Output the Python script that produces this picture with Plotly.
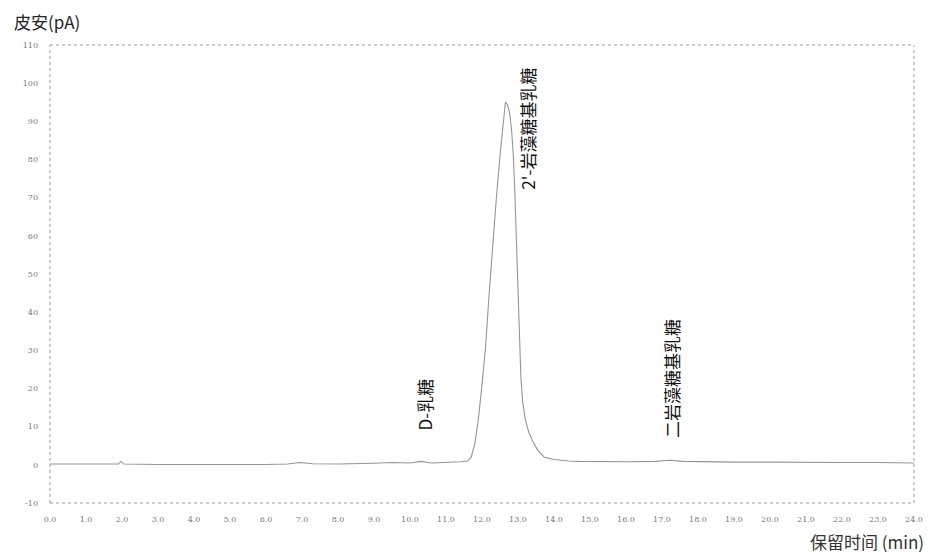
import plotly.graph_objects as go

# Chromatogram trace (retention time in min, signal in pA)
time_min = [0.0, 1.0, 1.9, 1.97, 2.05, 3.0, 4.0, 4.7, 5.0, 6.0, 6.6, 6.95, 7.3, 8.0, 9.0,
            9.5, 10.0, 10.3, 10.6, 11.0, 11.4, 11.6, 11.7, 11.8, 11.9, 12.0, 12.1, 12.2,
            12.3, 12.4, 12.5, 12.58, 12.65, 12.70, 12.76, 12.82, 12.87, 12.91, 12.95, 12.98,
            13.01, 13.04, 13.08, 13.13, 13.2, 13.3, 13.42, 13.55, 13.73, 14.0, 14.4, 14.7,
            15.5, 16.0, 16.8, 17.2, 17.6, 18.0, 19.0, 20.0, 21.0, 22.0, 23.0, 24.0]
signal_pa = [0.2, 0.2, 0.2, 0.9, 0.2, 0.1, 0.1, 0.0, 0.1, 0.1, 0.2, 0.6, 0.3, 0.2, 0.4,
             0.6, 0.5, 0.9, 0.5, 0.6, 0.8, 1.0, 2.0, 5.5, 12.0, 21.0, 31.0, 45.0,
             58.0, 70.0, 81.0, 89.0, 95.0, 94.5, 92.5, 88.0, 81.0, 72.0, 61.0, 51.0,
             41.0, 32.0, 23.0, 16.5, 12.0, 8.5, 6.0, 3.8, 2.0, 1.4, 1.0, 0.9,
             0.8, 0.8, 0.9, 1.2, 0.9, 0.8, 0.7, 0.7, 0.6, 0.6, 0.6, 0.5]

# Peak labels
peak_names = ["D-乳糖", "2'-岩藻糖基乳糖", "二岩藻糖基乳糖"]
peak_label_x = [10.4, 13.27, 17.26]
peak_label_y = [8.6, 71.5, 6.5]

x_ticks = [float(i) for i in range(0, 25)]
x_tick_text = [f"{v:.1f}" for v in x_ticks]
y_ticks = [110, 100, 90, 80, 70, 60, 50, 40, 30, 20, 10, 0, -10]
y_tick_text = [str(v) for v in y_ticks]

fig = go.Figure()
fig.add_trace(go.Scatter(
    x=time_min, y=signal_pa, mode="lines",
    line=dict(color="#959595", width=1.1),
    hoverinfo="x+y", showlegend=False,
))

for name, px, py in zip(peak_names, peak_label_x, peak_label_y):
    fig.add_annotation(
        x=px, y=py, xref="x", yref="y", text=name, showarrow=False,
        textangle=-90, xanchor="center", yanchor="bottom",
        font=dict(family="Noto Sans CJK SC", size=17, color="#111111"),
    )

# axis titles
fig.add_annotation(x=-0.044, y=1.052, xref="paper", yref="paper", text="皮安(pA)",
                   showarrow=False, xanchor="left", yanchor="middle",
                   font=dict(family="Noto Sans CJK SC", size=17, color="#222222"))
fig.add_annotation(x=1.0138, y=-0.083, xref="paper", yref="paper", text="保留时间 (min)",
                   showarrow=False, xanchor="right", yanchor="middle",
                   font=dict(family="Noto Sans CJK SC", size=17, color="#333333"))

# dotted frame
for x0, y0, x1, y1 in [(0, 0, 1, 0), (0, 1, 1, 1), (0, 0, 0, 1), (1, 0, 1, 1)]:
    fig.add_shape(type="line", xref="paper", yref="paper", x0=x0, y0=y0, x1=x1, y1=y1,
                  line=dict(color="#9a9a9a", width=1, dash="dot"))

tick_font = dict(family="DejaVu Serif", size=8, color="#7a7a7a")
fig.update_xaxes(range=[0, 24], tickvals=x_ticks, ticktext=x_tick_text,
                 showgrid=False, zeroline=False, showline=False, ticks="",
                 tickfont=tick_font, ticklabelstandoff=10)
fig.update_yaxes(range=[-10, 110], tickvals=y_ticks, ticktext=y_tick_text,
                 showgrid=False, zeroline=False, showline=False, ticks="",
                 tickfont=tick_font, ticklabelstandoff=11)

fig.update_layout(
    width=927, height=549,
    margin=dict(l=42, r=17, t=37, b=54),
    paper_bgcolor="white", plot_bgcolor="white",
)

fig.write_html("out.html")
